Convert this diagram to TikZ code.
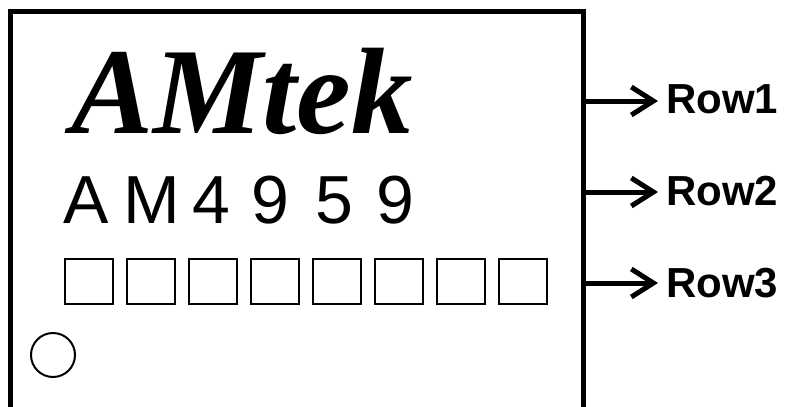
\documentclass[tikz,border=0pt]{standalone}
\usepackage{fontspec}
\usetikzlibrary{arrows.meta,calc}
\newfontfamily\logofont{Liberation Serif}
\newfontfamily\partfont{Liberation Sans}
\newfontfamily\rowfont{Liberation Sans}

\begin{document}
\begin{tikzpicture}[x=1pt,y=-1pt,
    chip/.style={line width=5pt},
    lead/.style={line width=5pt,-{Straight Barb[length=22pt,width=28pt,line width=5pt]}},
    cell/.style={draw,line width=2pt,minimum width=48pt,minimum height=45pt,inner sep=0pt,anchor=north west},
    glyph/.style={anchor=base,inner sep=0pt,font=\partfont\fontsize{68}{72}\selectfont},
    rowlabel/.style={anchor=base west,inner sep=0pt,font=\rowfont\bfseries\fontsize{42}{48}\selectfont}]
    \useasboundingbox (0,0) rectangle (793,407);

    \coordinate (A1) at (10,412);
    \coordinate (B1) at (10,11.5);
    \coordinate (C1) at (583,11.5);
    \coordinate (D1) at (583,412);

    \coordinate (P1) at (583,101);
    \coordinate (P2) at (583,192);
    \coordinate (P3) at (583,283);

    \draw[chip] (A1) -- (B1) -- (C1) -- (D1);

    \node[anchor=base west,inner sep=0pt,font=\logofont\bfseries\itshape\fontsize{123}{126}\selectfont] (logo) at (71,133) {AMtek};
    \foreach \x/\c [count=\i from 0] in {86/A,152/M,211/4,270/9,334/5,395/9}
        \node[glyph] (part\i) at (\x,223) {\c};
    \foreach \i in {0,...,7}
        \node[cell] (cell\i) at ({63.7+62.1*\i},258.3) {};
    \draw[line width=2pt] (53,355) circle [radius=22];

    \node[rowlabel] (row1) at (666,113) {Row1};
    \node[rowlabel] (row2) at (666,205) {Row2};
    \node[rowlabel] (row3) at (666,297) {Row3};

    \draw[lead] (P1) -- ([xshift=-8pt]P1 -| row1.west);
    \draw[lead] (P2) -- ([xshift=-8pt]P2 -| row2.west);
    \draw[lead] (P3) -- ([xshift=-8pt]P3 -| row3.west);
\end{tikzpicture}
\end{document}
